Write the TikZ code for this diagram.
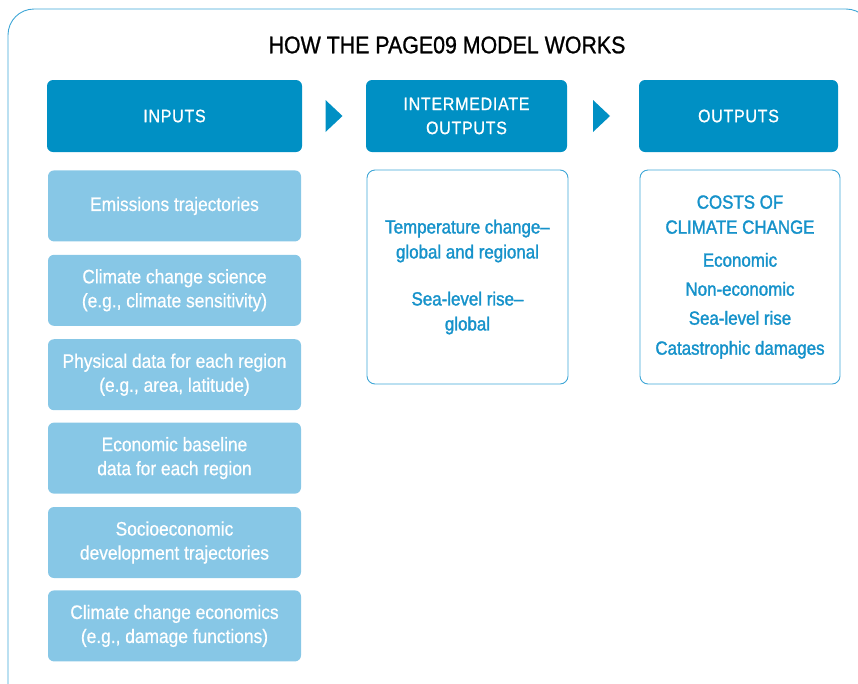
\documentclass[tikz,border=0pt]{standalone}
\usepackage{fontspec}
\setmainfont{Liberation Sans}[FakeStretch=0.89]
\usetikzlibrary{positioning,calc}
\definecolor{hdrblue}{RGB}{0,144,196}
\definecolor{lightblue}{RGB}{135,199,230}
\definecolor{txtblue}{RGB}{22,146,202}
\definecolor{lineblue}{RGB}{62,166,214}

\begin{document}
\begin{tikzpicture}[x=1pt,y=-1pt]
\tikzset{hdr/.style={fill=hdrblue, text=white, rounded corners=6pt, minimum height=72pt, align=center, font=\fontsize{18}{24}\selectfont\addfontfeature{LetterSpace=4,FakeBold=0.8}},
  inp/.style={fill=lightblue, text=white, rounded corners=6pt, minimum width=253pt, minimum height=71pt, align=center, font=\fontsize{19.5}{24}\selectfont\addfontfeature{FakeBold=0.6}},
  outbox/.style={draw=lineblue, line width=0.9pt, text=txtblue, rounded corners=8pt, minimum height=214pt, align=center, font=\fontsize{19}{25}\selectfont\addfontfeature{FakeBold=1.6}},
  arrowtip/.style={fill=hdrblue}};
   \useasboundingbox (0,0) rectangle (858,683);
   \draw[lineblue, line width=0.9pt, rounded corners=26pt] (8,700) -- (8,9) -- (872,9) -- (872,700);

   \node[font=\fontsize{24}{30}\selectfont\addfontfeature{FakeBold=1}] (title) at (447,45) {HOW THE PAGE09 MODEL WORKS};

   % column headers
   \node[hdr, minimum width=255pt] (inputs) at (174.5,116) {INPUTS};
   \node[hdr, minimum width=201pt] (inter) at (466.5,116) {INTERMEDIATE\\OUTPUTS};
   \node[hdr, minimum width=199pt] (outputs) at (738.5,116) {OUTPUTS};

   \coordinate (a1) at ($(inputs.east)!0.5!(inter.west)$);
   \coordinate (a2) at ($(inter.east)!0.5!(outputs.west)$);
   \fill[arrowtip] ($(a1)+(-8.5,-16)$) -- ++(17,16) -- ++(-17,16) -- cycle;
   \fill[arrowtip] ($(a2)+(-10,-16)$) -- ++(17,16) -- ++(-17,16) -- cycle;

   % inputs
   \node[inp, below=18pt of inputs] (emis) {Emissions trajectories};
   \node[inp, below=13pt of emis] (science) {Climate change science\\(e.g., climate sensitivity)};
   \node[inp, below=13pt of science] (phys) {Physical data for each region\\(e.g., area, latitude)};
   \node[inp, below=12pt of phys] (econ) {Economic baseline\\data for each region};
   \node[inp, below=13pt of econ] (socio) {Socioeconomic\\development trajectories};
   \node[inp, below=12pt of socio] (damage) {Climate change economics\\(e.g., damage functions)};

   % intermediate outputs and outputs
   \node[outbox, minimum width=201pt] (temp) at (467.5,277) {Temperature change--\\global and regional\\[22pt]Sea-level rise--\\global};
   \node[outbox, minimum width=200pt] (costs) at (740,277) {COSTS OF\\CLIMATE CHANGE\\[8pt]Economic\\[4pt]Non-economic\\[4pt]Sea-level rise\\[5pt]Catastrophic damages};
\end{tikzpicture}
\end{document}
